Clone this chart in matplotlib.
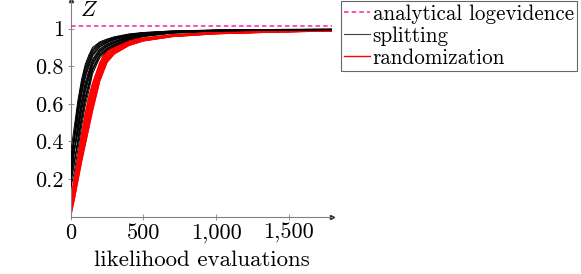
import matplotlib
matplotlib.use("Agg")
import matplotlib.pyplot as plt
from matplotlib.lines import Line2D

plt.rcParams['font.family'] = ['cmr10', 'DejaVu Serif']
plt.rcParams['mathtext.fontset'] = 'cm'
plt.rcParams['axes.unicode_minus'] = False

evals = [0, 25, 50, 75, 100, 125, 150, 200, 250, 300, 400, 500, 700, 1000, 1400, 1800]

split_1 = [0.34, 0.48, 0.62, 0.73, 0.81, 0.86, 0.90, 0.93, 0.945, 0.957, 0.972, 0.98, 0.988, 0.993, 0.996, 0.997]
split_2 = [0.22, 0.42, 0.591, 0.703, 0.786, 0.839, 0.885, 0.921, 0.938, 0.951, 0.968, 0.978, 0.987, 0.992, 0.996, 0.997]
split_3 = [0.298, 0.427, 0.563, 0.675, 0.762, 0.818, 0.869, 0.911, 0.932, 0.946, 0.965, 0.975, 0.985, 0.992, 0.995, 0.997]
split_4 = [0.277, 0.401, 0.534, 0.648, 0.737, 0.797, 0.854, 0.902, 0.925, 0.940, 0.961, 0.973, 0.984, 0.991, 0.995, 0.996]
split_5 = [0.18, 0.35, 0.506, 0.620, 0.713, 0.776, 0.838, 0.893, 0.919, 0.934, 0.958, 0.970, 0.983, 0.990, 0.994, 0.996]
split_6 = [0.234, 0.346, 0.474, 0.590, 0.687, 0.754, 0.822, 0.882, 0.911, 0.928, 0.954, 0.968, 0.981, 0.990, 0.994, 0.996]
split_7 = [0.30, 0.36, 0.446, 0.563, 0.663, 0.733, 0.806, 0.873, 0.905, 0.922, 0.951, 0.965, 0.980, 0.989, 0.993, 0.996]
split_8 = [0.192, 0.293, 0.417, 0.535, 0.638, 0.712, 0.791, 0.864, 0.898, 0.916, 0.947, 0.963, 0.979, 0.988, 0.993, 0.995]
split_9 = [0.25, 0.30, 0.389, 0.508, 0.614, 0.691, 0.775, 0.854, 0.892, 0.911, 0.944, 0.960, 0.977, 0.988, 0.992, 0.995]
split_10 = [0.15, 0.24, 0.36, 0.48, 0.59, 0.67, 0.76, 0.845, 0.885, 0.905, 0.94, 0.958, 0.976, 0.987, 0.992, 0.995]
split_11 = [0.26, 0.45, 0.605, 0.716, 0.798, 0.85, 0.892, 0.926, 0.941, 0.954, 0.970, 0.979, 0.988, 0.993, 0.996, 0.997]
split_12 = [0.32, 0.415, 0.548, 0.661, 0.75, 0.808, 0.862, 0.906, 0.928, 0.943, 0.963, 0.974, 0.985, 0.991, 0.995, 0.996]
split_13 = [0.21, 0.348, 0.49, 0.605, 0.70, 0.765, 0.83, 0.888, 0.915, 0.931, 0.956, 0.969, 0.982, 0.990, 0.994, 0.996]
split_14 = [0.27, 0.35, 0.46, 0.577, 0.675, 0.744, 0.814, 0.878, 0.908, 0.925, 0.953, 0.967, 0.981, 0.989, 0.994, 0.996]
split_15 = [0.17, 0.28, 0.403, 0.52, 0.626, 0.70, 0.783, 0.859, 0.895, 0.914, 0.946, 0.962, 0.978, 0.988, 0.993, 0.995]
split_16 = [0.24, 0.43, 0.577, 0.69, 0.774, 0.828, 0.877, 0.916, 0.935, 0.948, 0.967, 0.977, 0.986, 0.992, 0.995, 0.997]
splitting = [split_1, split_2, split_3, split_4, split_5, split_6, split_7, split_8,
             split_9, split_10, split_11, split_12, split_13, split_14, split_15, split_16]

rand_1 = [0.10, 0.21, 0.32, 0.44, 0.55, 0.64, 0.71, 0.82, 0.895, 0.915, 0.94, 0.95, 0.968, 0.98, 0.987, 0.991]
rand_2 = [0.05, 0.18, 0.308, 0.427, 0.535, 0.625, 0.697, 0.811, 0.888, 0.911, 0.937, 0.949, 0.967, 0.979, 0.987, 0.991]
rand_3 = [0.082, 0.188, 0.297, 0.413, 0.519, 0.609, 0.683, 0.802, 0.882, 0.906, 0.935, 0.947, 0.966, 0.979, 0.986, 0.990]
rand_4 = [0.02, 0.16, 0.285, 0.400, 0.504, 0.594, 0.670, 0.793, 0.875, 0.902, 0.932, 0.946, 0.965, 0.978, 0.986, 0.990]
rand_5 = [0.064, 0.167, 0.273, 0.386, 0.489, 0.579, 0.656, 0.784, 0.868, 0.897, 0.929, 0.945, 0.964, 0.977, 0.985, 0.990]
rand_6 = [0.055, 0.156, 0.262, 0.373, 0.474, 0.564, 0.643, 0.775, 0.861, 0.893, 0.927, 0.943, 0.964, 0.977, 0.985, 0.990]
rand_7 = [0.075, 0.15, 0.249, 0.358, 0.457, 0.547, 0.628, 0.765, 0.854, 0.888, 0.924, 0.942, 0.963, 0.976, 0.984, 0.989]
rand_8 = [0.036, 0.133, 0.237, 0.344, 0.441, 0.531, 0.614, 0.756, 0.847, 0.883, 0.921, 0.940, 0.962, 0.976, 0.984, 0.989]
rand_9 = [0.027, 0.122, 0.225, 0.331, 0.426, 0.516, 0.601, 0.747, 0.840, 0.879, 0.918, 0.939, 0.961, 0.975, 0.983, 0.989]
rand_10 = [0.045, 0.115, 0.213, 0.317, 0.411, 0.501, 0.587, 0.738, 0.834, 0.874, 0.915, 0.938, 0.960, 0.974, 0.983, 0.989]
rand_11 = [0.009, 0.101, 0.202, 0.304, 0.395, 0.485, 0.574, 0.729, 0.827, 0.870, 0.913, 0.936, 0.959, 0.974, 0.982, 0.988]
rand_12 = [0.0, 0.09, 0.19, 0.29, 0.38, 0.47, 0.56, 0.72, 0.82, 0.865, 0.91, 0.935, 0.958, 0.973, 0.982, 0.988]
rand_13 = [0.07, 0.195, 0.314, 0.433, 0.542, 0.632, 0.703, 0.815, 0.891, 0.913, 0.938, 0.95, 0.967, 0.98, 0.987, 0.991]
rand_14 = [0.03, 0.174, 0.291, 0.406, 0.511, 0.601, 0.676, 0.797, 0.878, 0.904, 0.933, 0.946, 0.965, 0.978, 0.986, 0.990]
rand_15 = [0.06, 0.16, 0.267, 0.379, 0.481, 0.571, 0.649, 0.779, 0.864, 0.895, 0.928, 0.944, 0.964, 0.977, 0.985, 0.990]
rand_16 = [0.04, 0.14, 0.243, 0.351, 0.449, 0.539, 0.621, 0.76, 0.85, 0.885, 0.922, 0.941, 0.962, 0.976, 0.984, 0.989]
rand_17 = [0.015, 0.118, 0.219, 0.324, 0.418, 0.508, 0.594, 0.742, 0.837, 0.876, 0.916, 0.938, 0.960, 0.974, 0.983, 0.989]
rand_18 = [0.005, 0.095, 0.196, 0.297, 0.387, 0.477, 0.567, 0.724, 0.823, 0.867, 0.911, 0.935, 0.958, 0.973, 0.982, 0.988]
randomization = [rand_1, rand_2, rand_3, rand_4, rand_5, rand_6, rand_7, rand_8,
                 rand_9, rand_10, rand_11, rand_12, rand_13, rand_14, rand_15,
                 rand_16, rand_17, rand_18]

analytical = 1.015

x_ticks = [0, 500, 1000, 1500]
x_tick_labels = ["0", "500", "1,000", "1,500"]
y_ticks = [0.2, 0.4, 0.6, 0.8, 1.0]
y_tick_labels = ["0.2", "0.4", "0.6", "0.8", "1"]

W, H = 581, 274
FS = 16
fig = plt.figure(figsize=(W / 100, H / 100), dpi=100)
ax = fig.add_axes([70.7 / W, 1 - 216.5 / H, (332.3 - 70.7) / W, 216.5 / H])

for ys in randomization:
    ax.plot(evals, ys, color='red', lw=0.8, zorder=2)
for ys in splitting:
    ax.plot(evals, ys, color='black', lw=0.7, zorder=3)
ax.axhline(analytical, color='#ff1fa8', lw=1.1, ls=(0, (3, 2)), zorder=4)

ax.set_xlim(0, 1800)
ax.set_ylim(0, 1.153)
ax.spines['top'].set_visible(False)
ax.spines['right'].set_visible(False)
for s in ('left', 'bottom'):
    ax.spines[s].set_color('#808080')
    ax.spines[s].set_linewidth(0.8)
ax.set_xticks(x_ticks)
ax.set_xticklabels(x_tick_labels)
ax.set_yticks(y_ticks)
ax.set_yticklabels(y_tick_labels)
ax.tick_params(direction='inout', length=4, width=0.6, color='#808080',
               labelsize=FS, pad=3)
ax.set_xlabel("likelihood evaluations", fontsize=FS + 0.5, labelpad=5)
ax.plot(1, 0, marker='>', color='#303030', ms=3, transform=ax.transAxes, clip_on=False)
ax.plot(0, 1, marker='^', color='#303030', ms=3, transform=ax.transAxes, clip_on=False)
ax.text(0.035, 1.0, "$Z$", transform=ax.transAxes, fontsize=FS, va='top', ha='left')

handles = [Line2D([], [], color='#ff1fa8', lw=1.1, ls=(0, (3, 2))),
           Line2D([], [], color='#404040', lw=0.8),
           Line2D([], [], color='#ff0000', lw=1.0)]
labels = ["analytical logevidence", "splitting", "randomization"]
leg = fig.legend(handles, labels, loc='upper left', bbox_to_anchor=(341 / W, 1 - 1 / H),
                 fontsize=15.2, frameon=True, fancybox=False, edgecolor='#404040',
                 handlelength=1.2, handletextpad=0.15, borderpad=0.15, labelspacing=0.12,
                 borderaxespad=0)
leg.get_frame().set_linewidth(0.8)

fig.savefig("out.png", dpi=100)
